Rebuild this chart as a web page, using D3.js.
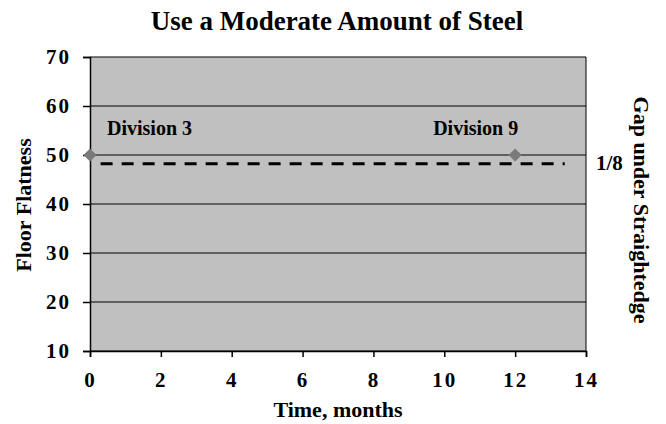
<!DOCTYPE html>
<html>
<head>
<meta charset="utf-8">
<script src="https://cdn.jsdelivr.net/npm/d3@7"></script>
<style>
body { margin: 0; background: #fff; }
text { font-family: "Liberation Serif", "Times New Roman", "DejaVu Serif", serif; font-weight: bold; fill: #000; }
</style>
</head>
<body>
<svg id="chart" width="666" height="424"></svg>
<script>
// data
var divisions = ["Division 3", "Division 9"];
var months = [0, 12];
var flatness = [50, 50];
var gapX = [0.3, 13.4];
var gapY = [48.2, 48.2];
var gapLabel = "1/8";
var xTicks = [0, 2, 4, 6, 8, 10, 12, 14];
var yTicks = [10, 20, 30, 40, 50, 60, 70];

var svg = d3.select("#chart");
var margin = {left: 90, right: 80, top: 57, bottom: 73};
var w = 666 - margin.left - margin.right;
var h = 424 - margin.top - margin.bottom;

var xScale = d3.scaleLinear().domain([0, 14]).range([0, w]);
var yScale = d3.scaleLinear().domain([10, 70]).range([h, 0]);

var g = svg.append("g")
    .attr("transform", "translate(" + margin.left + "," + margin.top + ")");

g.append("rect")
    .attr("width", w)
    .attr("height", h)
    .attr("fill", "#c0c0c0");

// gridlines
g.selectAll(".grid")
    .data(yTicks)
    .enter().append("line")
    .attr("x1", 0).attr("x2", w)
    .attr("y1", function(d) { return yScale(d); })
    .attr("y2", function(d) { return yScale(d); })
    .attr("stroke", "#000")
    .attr("stroke-width", 1);

g.append("line")
    .attr("x1", w).attr("x2", w)
    .attr("y1", 0).attr("y2", h)
    .attr("stroke", "#000");

var yAxis = d3.axisLeft(yScale).tickValues(yTicks).tickSize(7).tickPadding(12);
var xAxis = d3.axisBottom(xScale).tickValues(xTicks).tickSize(6).tickPadding(15);

var ya = g.append("g").call(yAxis);
var xa = g.append("g").attr("transform", "translate(0," + h + ")").call(xAxis);
[ya, xa].forEach(function(a) {
    a.attr("font-family", null);
    a.select(".domain").attr("stroke", "#000").attr("stroke-width", 1.5);
    a.selectAll(".tick line").attr("stroke", "#000").attr("stroke-width", 1.5);
    a.selectAll("text")
        .style("font-size", "21px")
        .style("letter-spacing", "2px")
        .attr("fill", "#000");
});

// dashed gap line
var gapData = gapX.map(function(x, i) { return {x: x, y: gapY[i]}; });
var line = d3.line()
    .x(function(d) { return xScale(d.x); })
    .y(function(d) { return yScale(d.y); });
g.append("path")
    .datum(gapData)
    .attr("d", line)
    .attr("fill", "none")
    .attr("stroke", "#000")
    .attr("stroke-width", 3)
    .attr("stroke-dasharray", "12,9");

// points
var pts = months.map(function(m, i) { return {x: m, y: flatness[i], label: divisions[i]}; });
g.selectAll(".pt")
    .data(pts)
    .enter().append("path")
    .attr("d", d3.symbol().type(d3.symbolDiamond2).size(110))
    .attr("transform", function(d) { return "translate(" + xScale(d.x) + "," + yScale(d.y) + ")"; })
    .attr("fill", "#7a7a7a");

g.selectAll(".lbl")
    .data(pts)
    .enter().append("text")
    .attr("x", function(d) { return xScale(d.x) + (d.x === 0 ? 17 : -82); })
    .attr("y", function(d) { return yScale(d.y) - 20; })
    .style("font-size", "20px")
    .text(function(d) { return d.label; });

g.append("text")
    .attr("x", w + 10)
    .attr("y", yScale(gapY[0]) + 6)
    .style("font-size", "21px")
    .text(gapLabel);

// titles
svg.append("text")
    .attr("x", 337).attr("y", 30)
    .attr("text-anchor", "middle")
    .style("font-size", "27px")
    .text("Use a Moderate Amount of Steel");

svg.append("text")
    .attr("x", 338).attr("y", 417)
    .attr("text-anchor", "middle")
    .style("font-size", "22px")
    .text("Time, months");

svg.append("text")
    .attr("transform", "translate(31,205) rotate(-90)")
    .attr("text-anchor", "middle")
    .style("font-size", "22px")
    .text("Floor Flatness");

svg.append("text")
    .attr("transform", "translate(634,210) rotate(90)")
    .attr("text-anchor", "middle")
    .style("font-size", "22px")
    .text("Gap under Straightedge");
</script>
</body>
</html>
